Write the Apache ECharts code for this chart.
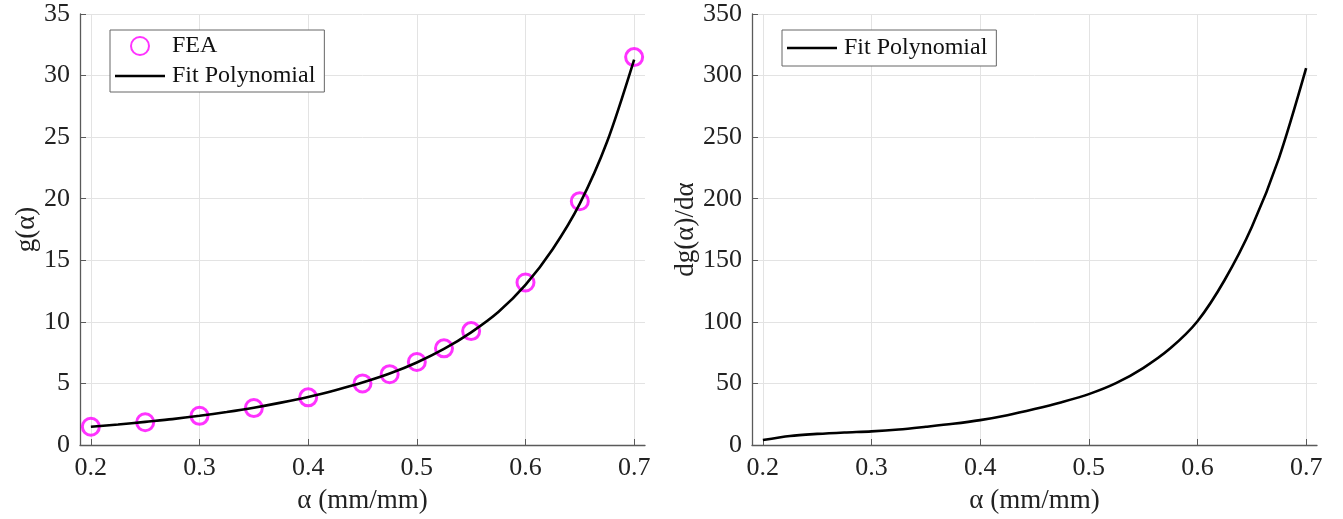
<!DOCTYPE html>
<html>
<head>
<meta charset="utf-8">
<script src="https://cdn.jsdelivr.net/npm/echarts@6/dist/echarts.min.js"></script>
<style>
  html, body {margin: 0; padding: 0; background: #fff;}
  #chart {width: 1343px; height: 519px;}
</style>
</head>
<body>
<div id="chart"></div>
<script>
// FEA samples (left plot)
const feaAlpha = [0.2, 0.25, 0.3, 0.35, 0.4, 0.45, 0.475, 0.5, 0.525, 0.55, 0.6, 0.65, 0.7];
const feaG = [1.48, 1.85, 2.37, 3.0, 3.87, 5.0, 5.75, 6.74, 7.85, 9.25, 13.2, 19.8, 31.5];

// fit polynomial
const fitAlpha = [0.2, 0.225, 0.25, 0.275, 0.3, 0.325, 0.35, 0.375, 0.4, 0.425, 0.45,
  0.475, 0.5, 0.525, 0.55, 0.575, 0.6, 0.625, 0.65, 0.675, 0.7];
const fitG = [1.48, 1.66, 1.88, 2.1, 2.37, 2.68, 3.03, 3.44, 3.9, 4.45, 5.07,
  5.8, 6.7, 7.8, 9.15, 10.8, 13.0, 15.9, 19.6, 24.6, 31.3];
const fitDg = [4.0, 7.3, 9.0, 10.2, 11.1, 12.6, 14.8, 17.2, 20.2, 24.2, 29.2,
  34.8, 41.3, 50.2, 62.5, 78.5, 100.5, 134, 177, 233, 306];

const xTicks = [0.2, 0.3, 0.4, 0.5, 0.6, 0.7];

const font = '"Liberation Serif", "DejaVu Serif", serif';
const axisColor = '#5a5a5a';
const gridColor = '#e3e3e3';
const lineIcon = 'path://M0,0 L50,0 L50,2.6 L0,2.6 Z';

const zip = (xs, ys) => xs.map((x, i) => [x, ys[i]]);

const chart = echarts.init(document.getElementById('chart'));

const xAxisBase = {
  type: 'value',
  min: 0.19,
  max: 0.71,
  name: 'α (mm/mm)',
  nameLocation: 'middle',
  nameGap: 42,
  nameTextStyle: {fontFamily: font, fontSize: 27, color: '#222'},
  axisLine: {show: true, lineStyle: {color: axisColor, width: 1.3}},
  axisTick: {show: true, inside: true, length: 6, customValues: xTicks, lineStyle: {color: axisColor}},
  axisLabel: {
    customValues: xTicks,
    margin: 10,
    fontFamily: font, fontSize: 26, color: '#222',
    formatter: v => v.toFixed(1)
  },
  splitLine: {show: true, lineStyle: {color: gridColor, width: 1}}
};

const yAxisBase = {
  type: 'value',
  min: 0,
  nameLocation: 'middle',
  nameRotate: 90,
  nameTextStyle: {fontFamily: font, fontSize: 27, color: '#222'},
  axisLine: {show: true, lineStyle: {color: axisColor, width: 1.3}},
  axisTick: {show: true, inside: true, length: 6, lineStyle: {color: axisColor}},
  axisLabel: {margin: 10, fontFamily: font, fontSize: 26, color: '#222'},
  splitLine: {show: true, lineStyle: {color: gridColor, width: 1}}
};

const legendBase = {
  orient: 'vertical',
  backgroundColor: '#fff',
  borderColor: '#666',
  borderWidth: 1,
  borderRadius: 0,
  itemWidth: 50,
  itemHeight: 18,
  itemGap: 6,
  padding: [4, 9, 4, 5],
  textStyle: {fontFamily: font, fontSize: 24, color: '#111', padding: [0, 0, 0, 2]}
};

chart.setOption({
  animation: false,
  grid: [
    {left: 80, top: 14, width: 565, height: 433},
    {left: 752, top: 14, width: 565, height: 433}
  ],
  xAxis: [
    {...xAxisBase, gridIndex: 0},
    {...xAxisBase, gridIndex: 1}
  ],
  yAxis: [
    {...yAxisBase, gridIndex: 0, max: 35, interval: 5, name: 'g(α)', nameGap: 38},
    {...yAxisBase, gridIndex: 1, max: 350, interval: 50, name: 'dg(α)/dα', nameGap: 50}
  ],
  legend: [
    {...legendBase, left: 110, top: 30, data: ['FEA', {name: 'Fit Polynomial', icon: lineIcon}]},
    {...legendBase, left: 782, top: 30, padding: [6, 9, 6, 5], data: [{name: 'Fit Polynomial', icon: lineIcon}]}
  ],
  series: [
    {
      name: 'FEA',
      type: 'scatter',
      xAxisIndex: 0, yAxisIndex: 0,
      data: zip(feaAlpha, feaG),
      symbol: 'circle',
      symbolSize: 17,
      itemStyle: {color: 'rgba(255,255,255,0)', borderColor: '#ff00ff', borderWidth: 3},
      z: 2
    },
    {
      name: 'Fit Polynomial',
      type: 'line',
      xAxisIndex: 0, yAxisIndex: 0,
      data: zip(fitAlpha, fitG),
      smooth: 0.3,
      symbol: 'none',
      lineStyle: {color: '#000', width: 2.6},
      itemStyle: {color: '#000'},
      z: 3
    },
    {
      name: 'Fit Polynomial',
      type: 'line',
      xAxisIndex: 1, yAxisIndex: 1,
      data: zip(fitAlpha, fitDg),
      smooth: 0.3,
      symbol: 'none',
      lineStyle: {color: '#000', width: 2.6},
      itemStyle: {color: '#000'},
      z: 3
    }
  ]
});
</script>
</body>
</html>
